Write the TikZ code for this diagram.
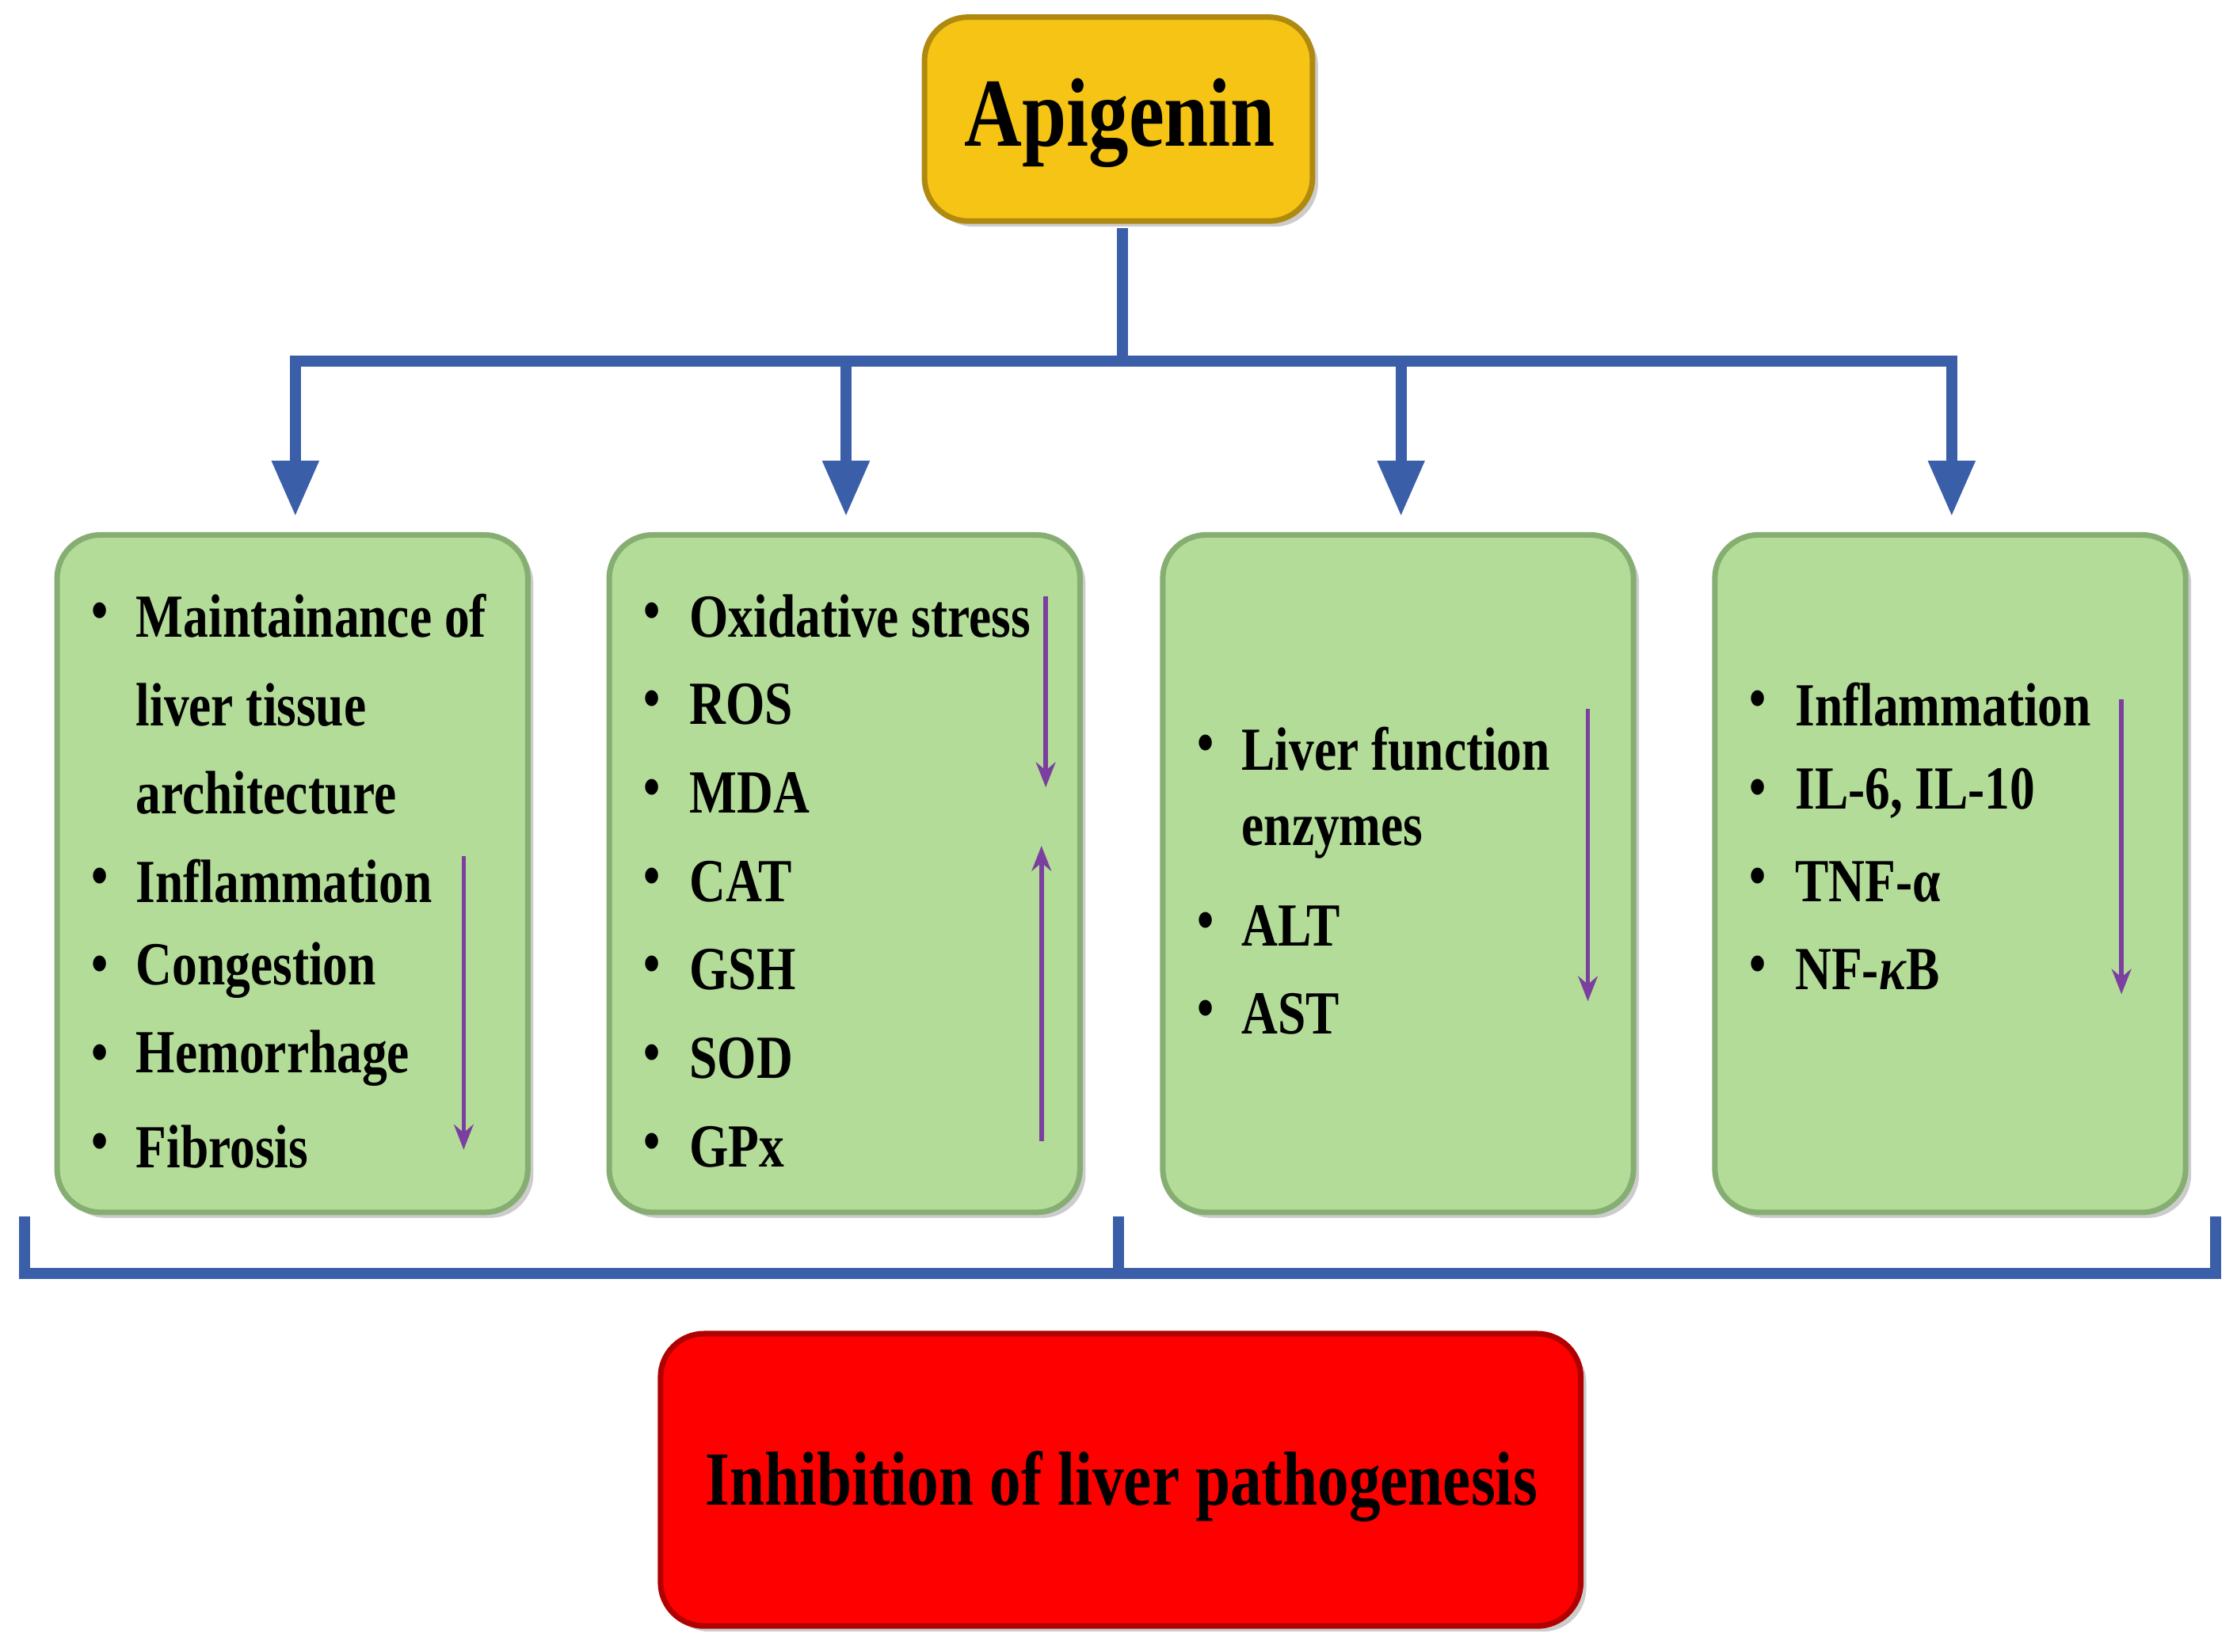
\documentclass[tikz,border=0pt]{standalone}
\usepackage{fontspec}
\setmainfont{Liberation Serif}[FakeStretch=0.82]
\usetikzlibrary{arrows.meta,shadows}
\definecolor{blu}{HTML}{3A5FA8}
\definecolor{grn}{HTML}{B3DC98}
\definecolor{grnd}{HTML}{86AE73}
\definecolor{yel}{HTML}{F6C414}
\definecolor{yeld}{HTML}{B08A10}
\definecolor{redf}{HTML}{FF0000}
\definecolor{redd}{HTML}{B00000}
\definecolor{pur}{HTML}{7B3FA0}
\begin{document}
\begin{tikzpicture}[x=0.018cm,y=-0.018cm,
  box/.style={rounded corners=0.55cm,line width=2pt,drop shadow={shadow xshift=2pt,shadow yshift=-2pt,opacity=0.4}},
  gbox/.style={box,fill=grn,draw=grnd},
  conn/.style={blu,line width=4pt},
  arr/.style={conn,-{Triangle[width=16pt,length=20pt]}},
  parr/.style={pur,line width=1.6pt,-{Stealth[width=7pt,length=9pt]}},
  txt/.style={anchor=west,font=\bfseries\fontsize{22}{24}\selectfont,inner sep=0pt},
  bul/.style={anchor=center,font=\bfseries\fontsize{21}{24}\selectfont,inner sep=0pt}]
\useasboundingbox (0,0) rectangle (1568,1158);
% top box
\draw[box,fill=yel,draw=yeld] (648,12) rectangle (920,155);
\node[font=\bfseries\fontsize{35}{40}\selectfont] (api) at (785,86) {Apigenin};
% connectors
\coordinate (ab) at (787,160);
\coordinate (hm) at (787,253);
\coordinate (h1) at (207,253);
\coordinate (h2) at (593,253);
\coordinate (h3) at (982,253);
\coordinate (h4) at (1368,253);
\draw[conn] (ab) -- (hm);
\draw[conn,line cap=rect] (h1) -- (h4);
\draw[arr] (h1) -- (207,362);
\draw[arr] (h2) -- (593,362);
\draw[arr] (h3) -- (982,362);
\draw[arr] (h4) -- (1368,362);
% green boxes
\draw[gbox] (40,375) rectangle (370,850);
\draw[gbox] (427,375) rectangle (757,850);
\draw[gbox] (815,375) rectangle (1145,850);
\draw[gbox] (1202,375) rectangle (1532,850);
% box 1
\foreach \t/\y/\b [count=\i] in {Maintainance of/432/1,liver tissue/494/0,architecture/556/0,Inflammation/618/1,Congestion/680/1,Hemorrhage/742/1,Fibrosis/804/1}{
  \node[txt] (a\i) at (95,\y) {\t};
  \ifnum\b=1 \node[bul] (ab\i) at (70,\y) {•};\fi
}
% box 2
\foreach \t/\y [count=\i] in {Oxidative stress/432,ROS/494,MDA/556,CAT/618,GSH/680,SOD/742,GPx/804}{
  \node[txt] (b\i) at (483,\y) {\t};
  \node[bul] (bb\i) at (457,\y) {•};
}
% box 3
\foreach \t/\y/\b [count=\i] in {Liver function/525/1,enzymes/587/0,ALT/649/1,AST/711/1}{
  \node[txt] (c\i) at (870,\y) {\t};
  \ifnum\b=1 \node[bul] (cb\i) at (845,\y) {•};\fi
}
% box 4
\foreach \t/\y [count=\i] in {Inflammation/494,{IL-6, IL-10}/556,TNF-α/618,NF-\textit{κ}B/680}{
  \node[txt] (d\i) at (1258,\y) {\t};
  \node[bul] (db\i) at (1232,\y) {•};
}
% purple arrows
\coordinate (p1s) at (325,600); \coordinate (p1e) at (325,806);
\coordinate (p2s) at (733,418); \coordinate (p2e) at (733,552);
\coordinate (p3s) at (730,800); \coordinate (p3e) at (730,593);
\coordinate (p4s) at (1113,497); \coordinate (p4e) at (1113,702);
\coordinate (p5s) at (1487,490); \coordinate (p5e) at (1487,697);
\draw[parr] (p1s) -- (p1e);
\draw[parr] (p2s) -- (p2e);
\draw[parr] (p3s) -- (p3e);
\draw[parr] (p4s) -- (p4e);
\draw[parr] (p5s) -- (p5e);
% bracket
\coordinate (bl) at (17,853); \coordinate (br) at (1553,853);
\coordinate (bm) at (784,853); \coordinate (bmb) at (784,893);
\draw[conn] (bl) -- (17,893) -- (1553,893) -- (br);
\draw[conn] (bm) -- (bmb);
% red box
\draw[box,fill=redf,draw=redd] (463,935) rectangle (1108,1140);
\node[font=\bfseries\fontsize{27.5}{32}\selectfont] (res) at (786,1042) {Inhibition of liver pathogenesis};
\end{tikzpicture}
\end{document}
